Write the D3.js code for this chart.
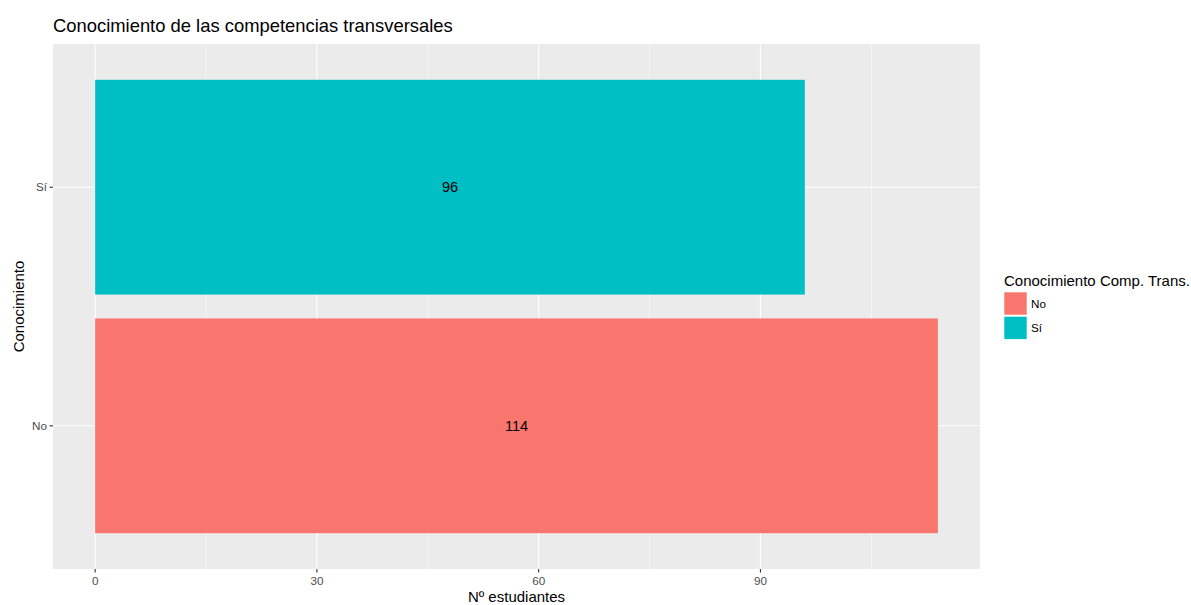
<!DOCTYPE html>
<html><head><meta charset="utf-8">
<script src="https://cdn.jsdelivr.net/npm/d3@7"></script>
<style>body{margin:0;background:#fff}svg{display:block}text{font-family:"Liberation Sans",Arial,sans-serif}</style>
</head><body>
<svg id="c" width="1191" height="605"></svg>
<script>
const categories = ["No", "Sí"];
const values = [114, 96];
const colors = ["#F8766D", "#00BFC4"];
const xTicks = [0, 30, 60, 90];
const xMinor = [15, 45, 75, 105];
const title = "Conocimiento de las competencias transversales";
const xTitle = "Nº estudiantes";
const yTitle = "Conocimiento";
const legendTitle = "Conocimiento Comp. Trans.";

const svg = d3.select("#c");
const L = 53, R = 980, T = 44, B = 569;
const maxV = d3.max(values);
const x = d3.scaleLinear().domain([-0.05 * maxV, maxV * 1.05]).range([L, R]);
const yc = d3.scaleLinear().domain([0.4, categories.length + 0.6]).range([B, T]);

svg.append("rect").attr("x", L).attr("y", T).attr("width", R - L).attr("height", B - T).attr("fill", "#EBEBEB");
const g = svg.append("g");
g.selectAll(".minor").data(xMinor).join("line")
  .attr("x1", d => x(d)).attr("x2", d => x(d)).attr("y1", T).attr("y2", B)
  .attr("stroke", "#fff").attr("stroke-width", 0.55);
g.selectAll(".major").data(xTicks).join("line")
  .attr("x1", d => x(d)).attr("x2", d => x(d)).attr("y1", T).attr("y2", B)
  .attr("stroke", "#fff").attr("stroke-width", 1.1);
g.selectAll(".hmajor").data(categories).join("line")
  .attr("x1", L).attr("x2", R).attr("y1", (d, i) => yc(i + 1)).attr("y2", (d, i) => yc(i + 1))
  .attr("stroke", "#fff").attr("stroke-width", 1.1);

const bw = 0.45;
g.selectAll(".bar").data(values).join("rect")
  .attr("x", x(0)).attr("width", d => x(d) - x(0))
  .attr("y", (d, i) => yc(i + 1 + bw)).attr("height", (d, i) => yc(i + 1 - bw) - yc(i + 1 + bw))
  .attr("fill", (d, i) => colors[i]);
g.selectAll(".lab").data(values).join("text")
  .attr("x", d => x(d / 2)).attr("y", (d, i) => yc(i + 1)).attr("dy", "0.35em")
  .attr("text-anchor", "middle").attr("font-size", 14.5).attr("fill", "#000").text(d => d);

// x axis
const xa = svg.append("g");
xa.selectAll("line").data(xTicks).join("line")
  .attr("x1", d => x(d)).attr("x2", d => x(d)).attr("y1", B).attr("y2", B + 3.5)
  .attr("stroke", "#333").attr("stroke-width", 1.1);
xa.selectAll("text").data(xTicks).join("text")
  .attr("x", d => x(d)).attr("y", B + 16).attr("text-anchor", "middle")
  .attr("font-size", 11.7).attr("fill", "#4D4D4D").text(d => d);
// y axis
const ya = svg.append("g");
ya.selectAll("line").data(categories).join("line")
  .attr("x1", L - 3.5).attr("x2", L).attr("y1", (d, i) => yc(i + 1)).attr("y2", (d, i) => yc(i + 1))
  .attr("stroke", "#333").attr("stroke-width", 1.1);
ya.selectAll("text").data(categories).join("text")
  .attr("x", L - 6).attr("y", (d, i) => yc(i + 1)).attr("dy", "0.35em").attr("text-anchor", "end")
  .attr("font-size", 11.7).attr("fill", "#4D4D4D").text(d => d);

svg.append("text").attr("x", (L + R) / 2).attr("y", 602).attr("text-anchor", "middle")
  .attr("font-size", 15).attr("fill", "#000").text(xTitle);
svg.append("text").attr("transform", `translate(23.5,${(T + B) / 2}) rotate(-90)`).attr("text-anchor", "middle")
  .attr("font-size", 15).attr("fill", "#000").text(yTitle);
svg.append("text").attr("x", L).attr("y", 32).attr("font-size", 18.4).attr("fill", "#000").text(title);

// legend
const lg = svg.append("g");
lg.append("text").attr("x", 1004).attr("y", 286).attr("font-size", 15).attr("fill", "#000").text(legendTitle);
const ks = 22.4, ky0 = 292.3;
lg.selectAll("rect").data(categories).join("rect")
  .attr("x", 1004.3).attr("y", (d, i) => ky0 + i * (ks + 2)).attr("width", ks).attr("height", ks)
  .attr("fill", (d, i) => colors[i]);
lg.selectAll(".lt").data(categories).join("text")
  .attr("x", 1031).attr("y", (d, i) => ky0 + i * (ks + 2) + ks / 2).attr("dy", "0.35em")
  .attr("font-size", 11.7).attr("fill", "#000").text(d => d);
</script>
</body></html>
